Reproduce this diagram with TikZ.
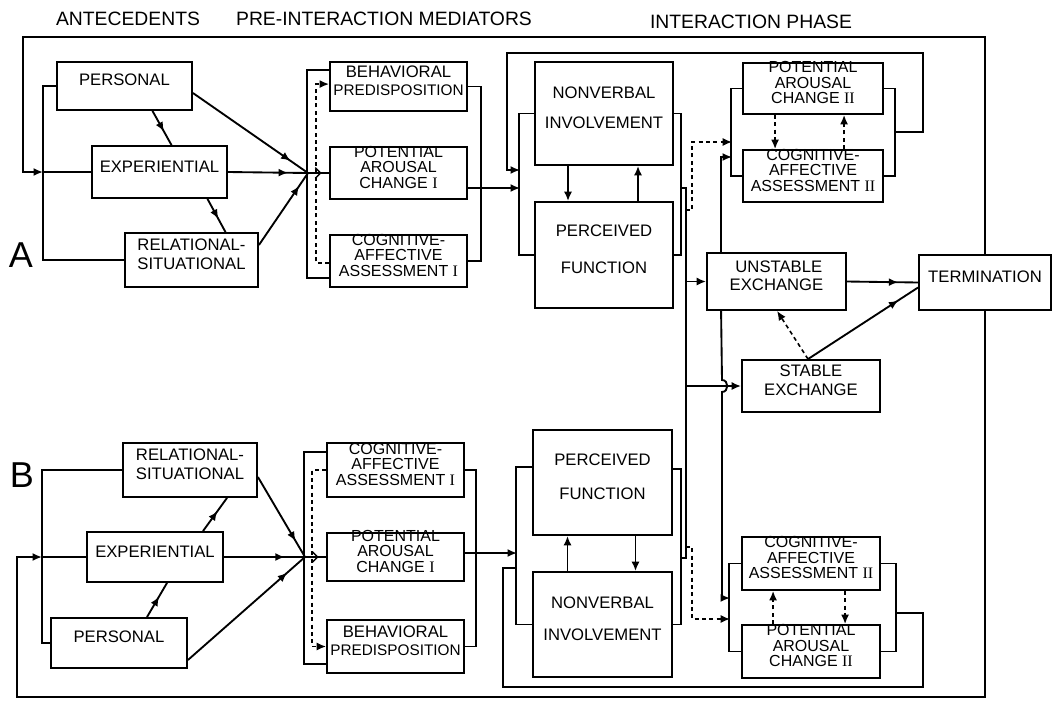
\documentclass[tikz,border=0pt]{standalone}
\usepackage{fontspec}
\setmainfont{Liberation Sans}
\newfontfamily\boxfnt{Liberation Sans}
\newfontfamily\numfnt{Liberation Serif}
\usetikzlibrary{arrows.meta,calc,fit,decorations.markings}
\newcommand{\rI}{{\numfnt I}}
\newcommand{\rII}{{\numfnt II}}
\begin{document}
\begin{tikzpicture}[x=0.75pt,y=-0.75pt,
  bx/.style={draw,line width=1.4pt,inner sep=0pt,align=center,font=\boxfnt\fontsize{12.5}{14}\selectfont},
  bxt/.style={bx,font=\boxfnt\fontsize{12}{11.6}\selectfont},
  ln/.style={line width=1.4pt},
  dsh/.style={line width=1.2pt,dash pattern=on 3pt off 2.5pt},
  arr/.style={-{Latex[length=7pt,width=6pt]}},
  arrowat/.style={postaction={decorate},decoration={markings,mark=at position #1 with {\arrow{Latex[length=7pt,width=6pt]}}}},
  barbat/.style={postaction={decorate},decoration={markings,mark=at position #1 with {\arrow[line width=1.1pt]{Straight Barb[length=4pt,width=8pt]}}}},
  ttl/.style={font=\fontsize{14.5}{16}\selectfont},
  big/.style={font=\fontsize{27}{30}\selectfont}
]
\fill[white] (0,0) rectangle (1054,704);
\useasboundingbox (0,0) rectangle (1054,704);

% titles
\node[ttl] (t1) at (128,19) {ANTECEDENTS};
\node[ttl] (t2) at (384,19) {PRE-INTERACTION MEDIATORS};
\node[ttl] (t3) at (751,22) {INTERACTION PHASE};
\node[big] (lA) at (21,255) {A};
\node[big] (lB) at (22,475) {B};

% ---------- A boxes
\node[bx,fit={(57,62)(192,110)}] (persA) {PERSONAL};
\node[bx,fit={(92,146)(227,198)}] (expA) {EXPERIENTIAL};
\node[bx,fit={(125,233)(258,287)}] (relA) {RELATIONAL-\\SITUATIONAL};
\node[bx,fit={(330,62)(467,111)}] (bpA) {BEHAVIORAL\\{\fontsize{11.5}{13}\selectfont PREDISPOSITION}};
\node[bxt,align=left,fit={(330,147)(467,199)}] (pacA) {POTENTIAL\\AROUSAL\\CHANGE \rI};
\node[bxt,fit={(330,235)(467,287)}] (caaA) {COGNITIVE-\\AFFECTIVE\\ASSESSMENT \rI};
\node[bx,align=left,font=\boxfnt\fontsize{12.5}{22}\selectfont,fit={(535,62)(673,165)}] (nvA) {NONVERBAL\\INVOLVEMENT};
\node[bx,align=left,font=\boxfnt\fontsize{12.5}{28}\selectfont,fit={(535,202)(673,308)}] (pfA) {PERCEIVED\\FUNCTION};
\node[bxt,align=left,fit={(743,63)(883,114)}] (pac2A) {POTENTIAL\\AROUSAL\\CHANGE \rII};
\node[bxt,fit={(743,150)(883,202)}] (caa2A) {COGNITIVE-\\AFFECTIVE\\ASSESSMENT \rII};

% ---------- centre boxes
\node[bx,align=left,fit={(707,253)(846,310)}] (unst) {\ UNSTABLE\\EXCHANGE};
\node[bx,fit={(742,360)(880,412)}] (stab) {STABLE\\EXCHANGE};
\node[bx,fit={(919,255)(1051,310)}] (term) {TERMINATION};

% ---------- B boxes
\node[bx,fit={(123,443)(257,497)}] (relB) {RELATIONAL-\\SITUATIONAL};
\node[bx,fit={(87,532)(223,582)}] (expB) {EXPERIENTIAL};
\node[bx,fit={(51,618)(187,668)}] (persB) {PERSONAL};
\node[bxt,fit={(327,443)(464,497)}] (caaB) {COGNITIVE-\\AFFECTIVE\\ASSESSMENT \rI};
\node[bxt,align=left,fit={(327,533)(464,581)}] (pacB) {POTENTIAL\\AROUSAL\\CHANGE \rI};
\node[bx,fit={(327,620)(464,673)}] (bpB) {BEHAVIORAL\\{\fontsize{11.5}{13}\selectfont PREDISPOSITION}};
\node[bx,align=left,font=\boxfnt\fontsize{12.5}{26}\selectfont,fit={(533,430)(672,535)}] (pfB) {PERCEIVED\\FUNCTION};
\node[bx,align=left,font=\boxfnt\fontsize{12.5}{24}\selectfont,fit={(533,572)(672,677)}] (nvB) {NONVERBAL\\INVOLVEMENT};
\node[bxt,fit={(742,537)(880,590)}] (caa2B) {COGNITIVE-\\AFFECTIVE\\ASSESSMENT \rII};
\node[bxt,align=left,fit={(742,625)(880,678)}] (pac2B) {POTENTIAL\\AROUSAL\\CHANGE \rII};

\coordinate (jA) at (43,172);
\coordinate (jmA) at (308,173);
\coordinate (jB) at (42,557);
\coordinate (jmB) at (305,557);

% ---------- A antecedents
\draw[ln,arr] (term.north) |- (23,37) |- (jA);
\draw[ln] (persA.west) -| (jA) |- (relA.west);
\draw[ln] (jA) -- (expA.west);
\draw[ln,arrowat=0.6] ($(persA.south)+(28,0)$) -- ($(expA.north)+(12,0)$);
\draw[ln,arrowat=0.6] ($(expA.south)+(48,0)$) -- ($(relA.north)+(34,0)$);
\draw[ln,arrowat=0.85] ($(persA.east)+(0,7)$) -- (jmA);
\draw[ln,arrowat=0.75] (expA.east) -- (jmA);
\draw[ln,arrowat=0.82] ($(relA.east)+(0,-15)$) -- (jmA);
\draw[ln,barbat=0.65] (jmA) -- (pacA.west);

% ---------- A mediators
\draw[ln] ($(bpA.north west)+(0,9)$) -- ++(-22,0) |- ($(caaA.south west)+(0,-10)$);
\draw[dsh,arr] ($(caaA.south west)+(0,-25)$) -- ++(-13,0) |- ($(bpA.north west)+(0,23)$);
\draw[ln] (bpA.east) -- ++(13,0) |- (caaA.east);
\draw[ln,arr] ($(pacA.east)+(0,15)$) -- (520,188);

% ---------- A interaction
\draw[ln] (nvA.west) -- ++(-15,0) |- (pfA.west);
\draw[ln] (nvA.east) -- ++(7,0) |- (pfA.east);
\draw[ln,arr] ($(nvA.south)+(-36,0)$) -- ($(pfA.north)+(-36,0)$);
\draw[ln,arr] ($(pfA.north)+(34,0)$) -- ($(nvA.south)+(34,0)$);
\draw[ln,arr] (894,132) -- (923,132) |- (507,53) |- (520,170);
\draw[ln] (pac2A.west) -- ++(-11,0) |- (caa2A.west);
\draw[ln] (pac2A.east) -- ++(11,0) |- (caa2A.east);
\draw[dsh,arr] ($(pac2A.south west)+(33,0)$) -- ($(caa2A.north west)+(33,0)$);
\draw[dsh,arr] ($(caa2A.north west)+(102,0)$) -- ($(pac2A.south west)+(102,0)$);

% ---------- centre
\draw[ln] (680,188) -- (686,188) -- (686,558) -- (680,558);
\draw[ln,arr] (686,0 |- unst.west) -- (unst.west);
\draw[ln,arr] (686,0 |- stab.west) -- (stab.west);
\draw[dsh,arr] (686,210) -- (692,210) -- (692,142) -- (732,142);
\draw[ln,arr] ($(unst.north west)+(15,0)$) |- (732,157);
\draw[ln,arr] ($(unst.south west)+(15,0)$) -- (722,380) .. controls (729,380) and (729,392) .. (722,392) -- (722,598) -- (730,598);
\draw[dsh,arr] (686,547) -- (692,547) -- (692,619) -- (730,619);
\draw[ln,arrowat=0.72] (unst.east) -- (term.west);
\draw[ln,arrowat=0.82] ($(stab.north)+(-3,0)$) -- ($(term.west)+(0,5)$);
\draw[dsh,arr] ($(stab.north)+(-3,0)$) -- ($(unst.south west)+(71,0)$);

% ---------- B antecedents
\draw[ln,arr] (term.south) |- (17,697) |- (jB);
\draw[ln] (relB.west) -| (jB) |- (persB.west);
\draw[ln] (jB) -- (expB.west);
\draw[ln,arrowat=0.6] ($(persB.north)+(28,0)$) -- ($(expB.south)+(12,0)$);
\draw[ln,arrowat=0.6] ($(expB.north)+(48,0)$) -- ($(relB.south)+(37,0)$);
\draw[ln,arrowat=0.8] ($(relB.east)+(0,7)$) -- (jmB);
\draw[ln,arrowat=0.75] (expB.east) -- (jmB);
\draw[ln,arrowat=0.85] ($(persB.east)+(0,17)$) -- (jmB);
\draw[ln,barbat=0.65] (jmB) -- (pacB.west);

% ---------- B mediators
\draw[ln] ($(caaB.north west)+(0,10)$) -- ++(-22,0) |- ($(bpB.south west)+(0,-10)$);
\draw[dsh,arr] (caaB.west) -- ++(-14,0) |- (bpB.west);
\draw[ln] (caaB.east) -- ++(11,0) |- (bpB.east);
\draw[ln,arr] ($(pacB.east)+(0,-4)$) -- (517,553);

% ---------- B interaction
\draw[ln] ($(pfB.north west)+(0,38)$) -- ++(-16,0) |- (nvB.west);
\draw[ln] ($(pfB.north east)+(0,40)$) -- ++(8,0) |- (nvB.east);
\draw[ln,arr] ($(nvB.north)+(-35,0)$) -- ($(pfB.south)+(-35,0)$);
\draw[ln,arr] ($(pfB.south)+(33,0)$) -- ($(nvB.north)+(33,0)$);
\draw[ln] (895,613) -- (923,613) |- (503,687) |- (517,568);
\draw[ln] (caa2B.west) -- ++(-12,0) |- (pac2B.west);
\draw[ln] (caa2B.east) -- ++(15,0) |- (pac2B.east);
\draw[dsh,arr] ($(caa2B.south west)+(104,0)$) -- ($(pac2B.north west)+(104,0)$);
\draw[dsh,arr] ($(pac2B.north west)+(32,0)$) -- ($(caa2B.south west)+(32,0)$);
\end{tikzpicture}
\end{document}
